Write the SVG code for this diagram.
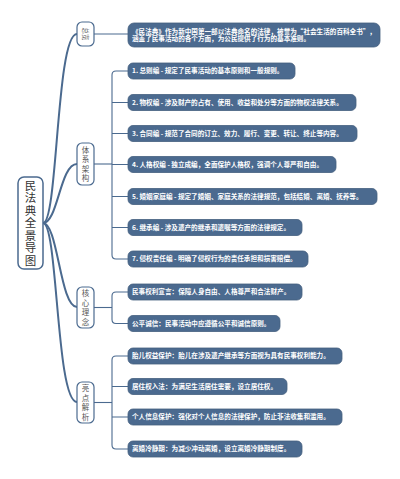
<svg xmlns="http://www.w3.org/2000/svg" width="400" height="479" viewBox="0 0 400 479">
<style>
.leaf rect{fill:#4b6a8f;stroke:#45607f;stroke-width:0.8}
.leaf text{fill:#ffffff;font-family:"Noto Sans CJK SC","Noto Sans",sans-serif;font-size:6.6px;font-weight:bold}
.l1 rect{fill:#ffffff;stroke:#4b6a8f;stroke-width:1.2}
.l1 text{fill:#555555;font-family:"Noto Sans CJK SC",sans-serif;font-size:7.5px;text-anchor:middle;writing-mode:vertical-rl;letter-spacing:2px}
.root rect{fill:#ffffff;stroke:#4b6a8f;stroke-width:1.5}
.root text{fill:#333333;font-family:"Noto Sans CJK SC",sans-serif;font-size:11.5px;text-anchor:middle;writing-mode:vertical-rl;letter-spacing:1px}
.c1{fill:none;stroke:#4b6a8f;stroke-width:2}
.c2{fill:none;stroke:#4b6a8f;stroke-width:1.1}
</style>
<rect width="400" height="479" fill="#ffffff"/>
<g id="connectors">
<path class="c1" d="M43,223 C58,223 56,34 77,34"/>
<path class="c1" d="M43,223 C58,223 60,164 77,164"/>
<path class="c1" d="M43,223 C58,223 60,307 77,307"/>
<path class="c1" d="M43,223 C58,223 56,402 77,402"/>
<path class="c2" d="M94,34 L128,34"/>
<path class="c2" d="M94,164 L112,164"/>
<path class="c2" d="M128,71 L116,71 Q112,71 112,75 L112,255 Q112,259 116,259 L128,259"/>
<path class="c2" d="M112,102.5 L128,102.5 M112,133.5 L128,133.5 M112,164.5 L128,164.5 M112,196.5 L128,196.5 M112,227.5 L128,227.5"/>
<path class="c2" d="M94,307.5 L112,307.5"/>
<path class="c2" d="M128,292 L116,292 Q112,292 112,296 L112,319.5 Q112,323.5 116,323.5 L128,323.5"/>
<path class="c2" d="M94,402.5 L112,402.5"/>
<path class="c2" d="M128,356 L116,356 Q112,356 112,360 L112,445 Q112,449 116,449 L128,449"/>
<path class="c2" d="M112,386.5 L128,386.5 M112,417 L128,417"/>
</g>
<g id="root" class="root">
<rect x="18" y="177" width="25" height="92" rx="6"/>
<text x="30.5" y="223.5">民法典全景导图</text>
</g>
<g id="n-overview" class="l1">
<rect x="77" y="22" width="17" height="24" rx="5"/>
<text x="85.5" y="34" transform="rotate(90 85.5 34)" dominant-baseline="central" style="font-size:6.5px;writing-mode:horizontal-tb;letter-spacing:0">总览</text>
</g>
<g id="n-system" class="l1">
<rect x="77" y="143" width="17" height="42" rx="5"/>
<text x="85.5" y="165">体系架构</text>
</g>
<g id="n-core" class="l1">
<rect x="77" y="287" width="17" height="41" rx="5"/>
<text x="85.5" y="308.5">核心理念</text>
</g>
<g id="n-highlight" class="l1">
<rect x="77" y="382" width="17" height="41" rx="5"/>
<text x="85.5" y="403.5">亮点解析</text>
</g>
<g id="leaf-overview" class="leaf">
<rect x="128" y="23" width="252" height="24" rx="6"/>
<text x="132" y="33.5">《民法典》作为新中国第一部以法典命名的法律，被誉为“社会生活的百科全书”，<tspan x="132" dy="7.5">涵盖了民事活动的各个方面，为公民提供了行为的基本准则。</tspan></text>
</g>
<g id="leaf-1" class="leaf">
<rect x="128" y="63" width="167" height="16" rx="5"/>
<text x="132" y="73.3">1. 总则编 - 规定了民事活动的基本原则和一般规则。</text>
</g>
<g id="leaf-2" class="leaf">
<rect x="128" y="94.5" width="228" height="16" rx="5"/>
<text x="132" y="104.8">2. 物权编 - 涉及财产的占有、使用、收益和处分等方面的物权法律关系。</text>
</g>
<g id="leaf-3" class="leaf">
<rect x="128" y="125.5" width="229" height="16" rx="5"/>
<text x="132" y="135.8">3. 合同编 - 规范了合同的订立、效力、履行、变更、转让、终止等内容。</text>
</g>
<g id="leaf-4" class="leaf">
<rect x="128" y="156.5" width="208" height="16" rx="5"/>
<text x="132" y="166.8">4. 人格权编 - 独立成编，全面保护人格权，强调个人尊严和自由。</text>
</g>
<g id="leaf-5" class="leaf">
<rect x="128" y="188.5" width="249" height="16" rx="5"/>
<text x="132" y="198.8">5. 婚姻家庭编 - 规定了婚姻、家庭关系的法律规范，包括结婚、离婚、抚养等。</text>
</g>
<g id="leaf-6" class="leaf">
<rect x="128" y="219.5" width="174" height="16" rx="5"/>
<text x="132" y="229.8">6. 继承编 - 涉及遗产的继承和遗嘱等方面的法律规定。</text>
</g>
<g id="leaf-7" class="leaf">
<rect x="128" y="251" width="180" height="16" rx="5"/>
<text x="132" y="261.3">7. 侵权责任编 - 明确了侵权行为的责任承担和损害赔偿。</text>
</g>
<g id="leaf-core-1" class="leaf">
<rect x="128" y="284" width="174" height="16" rx="5"/>
<text x="132" y="294.3">民事权利宣言：保障人身自由、人格尊严和合法财产。</text>
</g>
<g id="leaf-core-2" class="leaf">
<rect x="128" y="315.5" width="152" height="16" rx="5"/>
<text x="132" y="325.8">公平诚信：民事活动中应遵循公平和诚信原则。</text>
</g>
<g id="leaf-hl-1" class="leaf">
<rect x="128" y="348" width="214" height="16" rx="5"/>
<text x="132" y="358.3">胎儿权益保护：胎儿在涉及遗产继承等方面视为具有民事权利能力。</text>
</g>
<g id="leaf-hl-2" class="leaf">
<rect x="128" y="378.5" width="159" height="16" rx="5"/>
<text x="132" y="388.8">居住权入法：为满足生活居住需要，设立居住权。</text>
</g>
<g id="leaf-hl-3" class="leaf">
<rect x="128" y="409" width="214" height="16" rx="5"/>
<text x="132" y="419.3">个人信息保护：强化对个人信息的法律保护，防止非法收集和滥用。</text>
</g>
<g id="leaf-hl-4" class="leaf">
<rect x="128" y="441" width="174" height="16" rx="5"/>
<text x="132" y="451.3">离婚冷静期：为减少冲动离婚，设立离婚冷静期制度。</text>
</g>
</svg>
